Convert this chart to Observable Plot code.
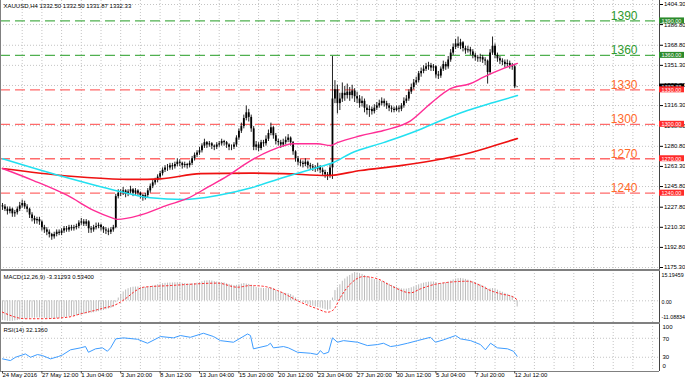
<!DOCTYPE html>
<html><head><meta charset="utf-8">
<script src="https://cdn.jsdelivr.net/npm/d3@7"></script>
<script src="https://cdn.jsdelivr.net/npm/@observablehq/plot@0.6"></script>
<style>
body{margin:0;background:#fff;}
#chart{position:relative;width:685px;height:383px;overflow:hidden;background:#fff;}
#chart svg{position:absolute;left:0;}
.sep{position:absolute;left:0;background:#808080;}
</style></head><body><div id="chart"></div>
<script>
// ---------- data ----------
const title = "XAUUSD,H4 1332.50 1332.50 1331.87 1332.33";
const macdTitle = "MACD(12,26,9) -3.31293 0.53400";
const rsiTitle = "RSI(14) 32.1360";
const dateLabels = ["24 May 2016","27 May 12:00","1 Jun 04:00","3 Jun 20:00","8 Jun 12:00","13 Jun 04:00","15 Jun 20:00","20 Jun 12:00","23 Jun 04:00","27 Jun 20:00","30 Jun 12:00","5 Jul 04:00","7 Jul 20:00","12 Jul 12:00"];
const dateLabelBars = [0,16,32,48,64,80,96,112,128,144,160,176,192,208];
const priceTicks = [1404.30,1386.80,1368.80,1351.30,1333.80,1316.30,1298.80,1280.80,1263.30,1245.80,1227.80,1210.30,1192.80,1175.30];
const levels = [1390,1360,1330,1300,1270,1240];
const levelKinds = ["g","g","r","r","r","r"];
const lastPrice = 1332.33;

const opens = [
1229,1228,1226,1224,1226,1222,1223,1226,1229,1231,
1228,1226,1221,1218,1216,1217,1215,1210,1208,1206,
1204,1202,1204,1206,1205,1207,1209,1208,1210,1209,
1210,1211,1214,1215,1213,1215,1209,1208,1210,1211,
1212,1210,1208,1207,1206,1208,1210,1237,1240,1240,
1242,1239,1241,1243,1240,1242,1240,1238,1236,1238,
1242,1246,1249,1251,1254,1257,1260,1262,1262,1264,
1263,1265,1267,1266,1264,1265,1264,1266,1270,1273,
1275,1277,1281,1284,1282,1283,1281,1280,1282,1283,
1285,1284,1282,1280,1280,1282,1288,1294,1298,1305,
1310,1306,1296,1280,1282,1279,1284,1283,1287,1292,
1297,1290,1285,1284,1282,1284,1286,1288,1284,1276,
1270,1267,1266,1265,1267,1264,1263,1262,1261,1263,
1260,1258,1256,1255,1262,1322,1330,1318,1322,1327,
1325,1328,1325,1329,1324,1322,1318,1320,1314,1312,
1313,1311,1314,1316,1318,1320,1318,1316,1314,1313,
1312,1314,1313,1316,1320,1322,1328,1332,1336,1338,
1344,1346,1348,1350,1351,1349,1350,1343,1342,1348,
1352,1350,1356,1362,1367,1370,1368,1371,1366,1364,
1365,1363,1360,1358,1357,1358,1356,1355,1345,1362,
1368,1360,1357,1355,1354,1352,1353,1351,1350,1332.5];
const highs = [
1231,1230,1228,1228,1227,1225,1228,1232,1234,1233,
1230,1227,1223,1220,1219,1219,1216,1212,1210,1208,
1205,1206,1208,1208,1209,1211,1211,1212,1212,1212,
1213,1216,1218,1217,1217,1216,1211,1212,1214,1214,
1213,1211,1210,1209,1210,1212,1239,1243,1243,1245,
1243,1243,1246,1244,1244,1243,1241,1239,1240,1244,
1248,1251,1253,1256,1259,1262,1264,1265,1266,1266,
1267,1270,1269,1267,1267,1266,1268,1272,1275,1277,
1280,1283,1287,1285,1285,1284,1282,1284,1285,1287,
1286,1285,1283,1282,1284,1290,1296,1301,1308,1316,
1313,1308,1298,1285,1284,1286,1286,1290,1295,1301,
1298,1292,1287,1286,1287,1289,1291,1289,1285,1277,
1272,1269,1268,1270,1268,1266,1265,1264,1266,1264,
1262,1260,1258,1265,1359,1338,1334,1327,1336,1333,
1335,1332,1334,1331,1328,1325,1324,1322,1317,1316,
1315,1317,1319,1321,1323,1322,1320,1318,1316,1315,
1316,1316,1318,1323,1325,1330,1335,1339,1341,1346,
1349,1351,1353,1354,1353,1352,1351,1346,1350,1355,
1354,1359,1365,1370,1374,1376,1374,1372,1368,1368,
1367,1365,1362,1360,1361,1360,1358,1356,1365,1376,
1370,1362,1359,1357,1356,1356,1355,1353,1352,1332.5];
const lows = [
1225,1224,1221,1222,1219,1219,1221,1224,1227,1226,
1223,1218,1215,1213,1213,1212,1207,1205,1203,1201,
1199,1200,1202,1203,1203,1205,1206,1206,1207,1207,
1208,1209,1212,1211,1211,1205,1205,1206,1208,1209,
1207,1205,1204,1203,1204,1206,1209,1235,1237,1238,
1236,1237,1239,1237,1238,1237,1235,1233,1234,1236,
1240,1244,1247,1249,1252,1255,1258,1259,1260,1260,
1261,1263,1263,1261,1262,1261,1262,1264,1268,1271,
1273,1275,1279,1279,1280,1278,1277,1278,1280,1281,
1281,1279,1277,1277,1278,1280,1286,1292,1296,1303,
1302,1293,1277,1277,1276,1277,1280,1281,1285,1290,
1287,1282,1281,1279,1280,1282,1284,1281,1273,1267,
1264,1263,1262,1263,1261,1260,1259,1258,1259,1257,
1255,1253,1251,1253,1252,1318,1309,1312,1319,1320,
1322,1320,1322,1319,1318,1314,1315,1310,1308,1306,
1308,1309,1312,1314,1316,1315,1313,1311,1310,1310,
1311,1310,1311,1314,1318,1320,1326,1330,1334,1336,
1341,1344,1346,1347,1346,1346,1340,1339,1340,1346,
1347,1348,1354,1360,1365,1366,1365,1363,1361,1362,
1360,1357,1355,1354,1354,1353,1351,1335,1343,1360,
1357,1354,1352,1351,1349,1350,1348,1347,1331,1331.87];
const closes = [
1228,1226,1224,1226,1222,1223,1226,1229,1231,1228,
1226,1221,1218,1216,1217,1215,1210,1208,1206,1204,
1202,1204,1206,1205,1207,1209,1208,1210,1209,1210,
1211,1214,1215,1213,1215,1209,1208,1210,1211,1212,
1210,1208,1207,1206,1208,1210,1237,1240,1240,1242,
1239,1241,1243,1240,1242,1240,1238,1236,1238,1242,
1246,1249,1251,1254,1257,1260,1262,1262,1264,1263,
1265,1267,1266,1264,1265,1264,1266,1270,1273,1275,
1277,1281,1284,1282,1283,1281,1280,1282,1283,1285,
1284,1282,1280,1280,1282,1288,1294,1298,1305,1310,
1306,1296,1280,1282,1279,1284,1283,1287,1292,1297,
1290,1285,1284,1282,1284,1286,1288,1284,1276,1270,
1267,1266,1265,1267,1264,1263,1262,1261,1263,1260,
1258,1256,1255,1262,1322,1330,1318,1322,1327,1325,
1328,1325,1329,1324,1322,1318,1320,1314,1312,1313,
1311,1314,1316,1318,1320,1318,1316,1314,1313,1312,
1314,1313,1316,1320,1322,1328,1332,1336,1338,1344,
1346,1348,1350,1351,1349,1350,1343,1342,1348,1352,
1350,1356,1362,1367,1370,1368,1371,1366,1364,1365,
1363,1360,1358,1357,1358,1356,1355,1345,1362,1368,
1360,1357,1355,1354,1352,1353,1351,1350,1332.5,1332.33];

// moving averages: [bar, value] samples
const maFastBars = [0,12.6,26.4,37,43.9,46.7,56,67,75.1,83.2,91.4,99.5,108.8,118.2,127.9,133.2,136,145.4,154.7,165.7,173.8,181.9,190.1,195.3,203.5,209.1];
const maFastVals = [1261.5,1251,1238,1225,1219,1217.2,1221,1229.6,1235.4,1245,1255,1266.7,1277,1283,1283,1281.5,1284,1290,1294.6,1303,1318,1331,1335.5,1341,1348.6,1353];
const maMidBars = [0,23.6,46.7,60.1,73.5,87.3,100.7,114.1,127.9,134.4,141.3,154.7,168.5,176.6,188.8,199.4,209.1];
const maMidVals = [1270,1255,1242,1236,1234.5,1238,1244.5,1253.7,1262.4,1266.7,1274.6,1284,1294.6,1302,1312,1319,1325];
const maSlowBars = [0,26.4,53.2,64.2,80.4,100.7,114.1,132,145.4,161.6,175,188.8,202.2,209.1];
const maSlowVals = [1261.5,1255,1252,1252.5,1257,1257.5,1257,1255.4,1259.8,1264,1268.5,1274.5,1283,1287.6];

// MACD main (histogram), one per bar
const macdMain = [
-10.5,-10.8,-11.0,-11.08834,-11.0,-10.8,-10.6,-10.3,-10.0,-9.8,
-9.6,-9.4,-9.3,-9.3,-9.2,-9.2,-9.3,-9.4,-9.5,-9.6,
-9.7,-9.7,-9.6,-9.4,-9.2,-9.0,-8.8,-8.6,-8.4,-8.2,
-8.0,-7.8,-7.5,-7.2,-7.0,-6.8,-6.6,-6.4,-6.1,-5.8,
-5.5,-5.2,-4.8,-4.4,-4.0,-3.5,-1.0,1.5,3.5,4.8,
5.8,6.5,7.0,7.3,7.4,7.4,7.3,7.2,7.2,7.4,
7.7,8.0,8.3,8.6,8.9,9.2,9.4,9.5,9.6,9.6,
9.7,9.7,9.6,9.4,9.3,9.1,9.0,9.1,9.3,9.5,
9.8,10.2,10.6,10.7,10.8,10.6,10.3,10.1,9.9,9.8,
9.6,9.2,8.8,8.4,8.2,8.3,8.6,9.0,9.3,9.0,
8.8,8.4,7.6,7.2,6.8,6.7,6.6,6.6,6.8,7.0,
6.4,5.6,5.0,4.5,4.2,4.0,3.8,3.4,2.6,1.6,
0.7,-0.2,-0.9,-1.4,-2.0,-2.5,-2.9,-3.3,-3.5,-3.9,
-4.3,-4.7,-5.1,-4.6,1.5,5.5,7.0,8.6,10.5,11.7,
12.8,13.6,14.5,15.19459,15.0,14.6,14.2,13.6,13.0,12.4,
11.8,11.4,11.0,10.7,10.4,10.0,9.5,8.9,8.3,7.7,
7.2,6.7,6.4,6.3,6.3,6.6,7.0,7.5,8.0,8.6,
9.1,9.5,9.8,10.0,10.1,10.1,9.7,9.3,9.3,9.5,
9.6,10.0,10.6,11.2,11.7,11.9,12.0,11.8,11.5,11.1,
10.7,10.2,9.6,9.0,8.5,8.0,7.4,6.3,6.4,6.6,
6.2,5.7,5.1,4.6,4.0,3.5,2.9,2.4,-0.8,-3.31293];
// MACD signal samples
const macdSigBars = [0,9.3,15.4,26.4,31.7,39.8,46.7,50.8,53.2,57.3,68.2,75.1,87.3,95.4,100.7,106,111.7,121,127.9,132,134.4,137.3,141.3,146.6,152.3,157.6,165.7,169.7,176.6,188.8,194.1,198.2,202.2,207.5,209];
const macdSigVals = [-6.1,-9.6,-9.6,-8.8,-7,-4.3,-1.6,2.0,4.6,7.3,8.2,8.8,9.5,7.3,8.2,7.8,5.5,-0.7,-4.3,-6.1,-4.8,2.0,9.1,13.0,11.8,8.2,4.3,6.4,9.1,10.5,8.2,5.5,3.8,2.0,0.534];

// RSI samples
const rsiBars = [0,3.2,5.3,9.3,11.4,14.2,16.2,19.5,22.7,24.4,27.6,31.7,33.7,34.9,37.8,40.6,42.6,43.9,46,49.1,54.8,58.9,64.2,69.4,72.3,76.3,81.6,85.7,88.5,93.8,99.5,100.7,101.9,107.6,108.8,110,114.1,116.1,119.8,125.1,127.9,129.1,130.4,132.4,134,136,138.5,144.2,148.2,152.3,154.7,157.6,160.4,164.5,168.5,173.8,175.8,179.1,184,186,190.1,194.1,196.1,198.2,201,205.1,207.5,209];
const rsiVals = [26.6,23,30,37,30,35.7,33.6,26.6,31.5,35,45.6,49.8,52.5,40.5,47.7,49.8,42.6,49.8,68.7,70.8,67.9,59.5,73.6,70.8,75.7,72,80.5,73.6,65,61.6,79,75.7,47.7,54.6,59.5,49.8,52.5,49.8,40.5,38.4,35.7,44,37,40.5,70.8,61.6,65,61.6,54.6,56.7,59.5,52.5,54.6,59.5,65,72,61.6,66.6,75.7,68.7,65,56.7,45.6,59.5,49.8,47.7,42.6,32.136];

// ---------- drawing ----------
const W = 685, XMAX = 266.8;
const FONT = "'Liberation Sans', Arial, sans-serif";
const xOpt = {domain:[0, XMAX], range:[2, 659], axis:null};
const grid = d3.range(8, 267, 8);
const GREEN_LINE = "#4fb04f", GREEN_TXT = "#2f9a2f", GREEN_BOX = "#2b8a2b";
const RED_LINE = "#ff6b6b", RED_TXT = "#ff6a2b", RED_BOX = "#ff2a2a";
const bars = closes.map((c, i) => ({i, o: opens[i], h: highs[i], l: lows[i], c}));
const pts = (bs, vs) => bs.map((b, k) => ({b, v: vs[k]}));
const lv = levels.map((v, k) => ({v, k: levelKinds[k]}));
const boxW = 25 / 2.4625;
const style = {fontFamily: FONT, fontSize: "6px", background: "transparent", color: "#000", overflow: "visible"};

const main = Plot.plot({
  width: W, height: 270, marginLeft: 0, marginRight: 26, marginTop: 0, marginBottom: 0,
  style,
  x: xOpt,
  y: {domain: [1175.3, 1404.3], range: [267, 4], axis: null},
  marks: [
    Plot.ruleX(grid, {stroke: "#c4c4c4", strokeDasharray: "1,2"}),
    Plot.ruleY(priceTicks, {stroke: "#c4c4c4", strokeDasharray: "1,2"}),
    Plot.ruleY(lv, {y: "v", stroke: d => d.k === "g" ? GREEN_LINE : RED_LINE, strokeWidth: 1.3, strokeDasharray: "10,5"}),
    Plot.text(lv, {y: "v", text: d => String(d.v), frameAnchor: "right", dx: -22, dy: -1, textAnchor: "end", lineAnchor: "bottom", fontSize: 12, fill: d => d.k === "g" ? GREEN_TXT : RED_TXT}),
    Plot.ruleX(bars, {x: "i", y1: "l", y2: "h", stroke: "#222", strokeWidth: 1}),
    Plot.ruleX(bars, {x: "i", y1: "o", y2: "c", stroke: "#000", strokeWidth: 1.8}),
    Plot.line(pts(maSlowBars, maSlowVals), {x: "b", y: "v", stroke: "#ee1111", strokeWidth: 1.6, curve: "monotone-x"}),
    Plot.line(pts(maMidBars, maMidVals), {x: "b", y: "v", stroke: "#22e0f0", strokeWidth: 1.5, curve: "monotone-x"}),
    Plot.line(pts(maFastBars, maFastVals), {x: "b", y: "v", stroke: "#ff2d95", strokeWidth: 1.4, curve: "monotone-x"}),
    Plot.ruleX([XMAX], {stroke: "#444"}),
    Plot.axisY(priceTicks, {anchor: "right", tickSize: 3, tickPadding: 1.5, fontSize: 6, tickFormat: d => d.toFixed(2)}),
    Plot.rect([lastPrice], {x1: XMAX, x2: XMAX + boxW, y1: d => d - 2.7, y2: d => d + 2.7, fill: "#000"}),
    Plot.text([lastPrice], {y: d => d, frameAnchor: "right", dx: 2, textAnchor: "start", text: d => d.toFixed(2), fill: "#fff", fontSize: 5.5}),
    Plot.rect(lv, {x1: XMAX, x2: XMAX + boxW, y1: d => d.v - 2.6, y2: d => d.v + 2.6, fill: d => d.k === "g" ? GREEN_BOX : RED_BOX}),
    Plot.text(lv, {y: "v", frameAnchor: "right", dx: 2, textAnchor: "start", text: d => d.v.toFixed(2), fill: "#fff", fontSize: 5.5}),
    Plot.text([title], {frameAnchor: "top-left", dx: 3, dy: 3, lineAnchor: "top", textAnchor: "start", fontSize: 6, fill: "#000", text: d => d})
  ]
});

const macd = Plot.plot({
  width: W, height: 53, marginLeft: 0, marginRight: 26, marginTop: 0, marginBottom: 0,
  style,
  x: xOpt,
  y: {domain: [-11.08834, 15.19459], range: [51, 2], axis: null},
  marks: [
    Plot.ruleX(grid, {stroke: "#c4c4c4", strokeDasharray: "1,2"}),
    Plot.ruleY([0], {stroke: "#c4c4c4", strokeDasharray: "1,2"}),
    Plot.ruleX(macdMain, {x: (d, i) => i, y1: 0, y2: d => d, stroke: "#bcbcbc", strokeWidth: 1}),
    Plot.line(pts(macdSigBars, macdSigVals), {x: "b", y: "v", stroke: "#ff2020", strokeWidth: 1, strokeDasharray: "1.5,2.5", curve: "monotone-x"}),
    Plot.ruleX([XMAX], {stroke: "#444"}),
    Plot.text([15.19459], {y: d => d, frameAnchor: "right", dx: 2, dy: 3, textAnchor: "start", text: () => "15.19459", fontSize: 5.3}),
    Plot.text([0], {y: d => d, frameAnchor: "right", dx: 2, dy: 1.5, textAnchor: "start", text: () => "0.00", fontSize: 5.3}),
    Plot.text([-11.08834], {y: d => d, frameAnchor: "right", dx: 2, dy: -4, textAnchor: "start", text: () => "-11.08834", fontSize: 5.3}),
    Plot.text([macdTitle], {frameAnchor: "top-left", dx: 3, dy: 4, lineAnchor: "top", textAnchor: "start", fontSize: 6, text: d => d})
  ]
});

const rsi = Plot.plot({
  width: W, height: 60, marginLeft: 0, marginRight: 26, marginTop: 0, marginBottom: 12,
  style,
  x: xOpt,
  y: {domain: [0, 100], range: [48, 0.5], axis: null},
  marks: [
    Plot.ruleX(grid, {stroke: "#c4c4c4", strokeDasharray: "1,2"}),
    Plot.ruleY([70, 30], {stroke: "#c4c4c4", strokeDasharray: "1,2"}),
    Plot.line(pts(rsiBars, rsiVals), {x: "b", y: "v", stroke: "#3d9cff", strokeWidth: 1}),
    Plot.ruleY([0], {stroke: "#808080"}),
    Plot.ruleX([XMAX], {stroke: "#444"}),
    Plot.ruleX(dateLabelBars, {x: d => d, y1: 0, y2: -5, stroke: "#444"}),
    Plot.text(dateLabelBars, {x: d => d, text: (d, i) => dateLabels[i], frameAnchor: "bottom", dy: 5, dx: 0, textAnchor: "start", fontSize: 6}),
    Plot.text([100], {y: d => d, frameAnchor: "right", dx: 3, dy: 3.5, textAnchor: "start", text: d => String(d), fontSize: 6}),
    Plot.text([70], {y: d => d, frameAnchor: "right", dx: 3, dy: 1.3, textAnchor: "start", text: d => String(d), fontSize: 6}),
    Plot.text([30], {y: d => d, frameAnchor: "right", dx: 3, dy: 0.3, textAnchor: "start", text: d => String(d), fontSize: 6}),
    Plot.text([0], {y: d => d, frameAnchor: "right", dx: 3, dy: -5, textAnchor: "start", text: d => String(d), fontSize: 6}),
    Plot.text([rsiTitle], {frameAnchor: "top-left", dx: 3, dy: 4, lineAnchor: "top", textAnchor: "start", fontSize: 6, text: d => d})
  ]
});

const root = document.getElementById("chart");
[[main, 0], [macd, 270], [rsi, 323]].forEach(([svg, top]) => {
  svg.style.top = top + "px";
  svg.style.position = "absolute";
  root.appendChild(svg);
});
function sep(top, h, left, w, color) {
  const d = document.createElement("div");
  d.className = "sep";
  d.style.top = top + "px"; d.style.height = h + "px";
  d.style.left = left + "px"; d.style.width = w + "px";
  if (color) d.style.background = color;
  root.appendChild(d);
}
sep(269, 2, 0, 660);
sep(322, 2, 0, 660);
sep(0, 371, 0, 1, "#808080");
</script></body></html>
